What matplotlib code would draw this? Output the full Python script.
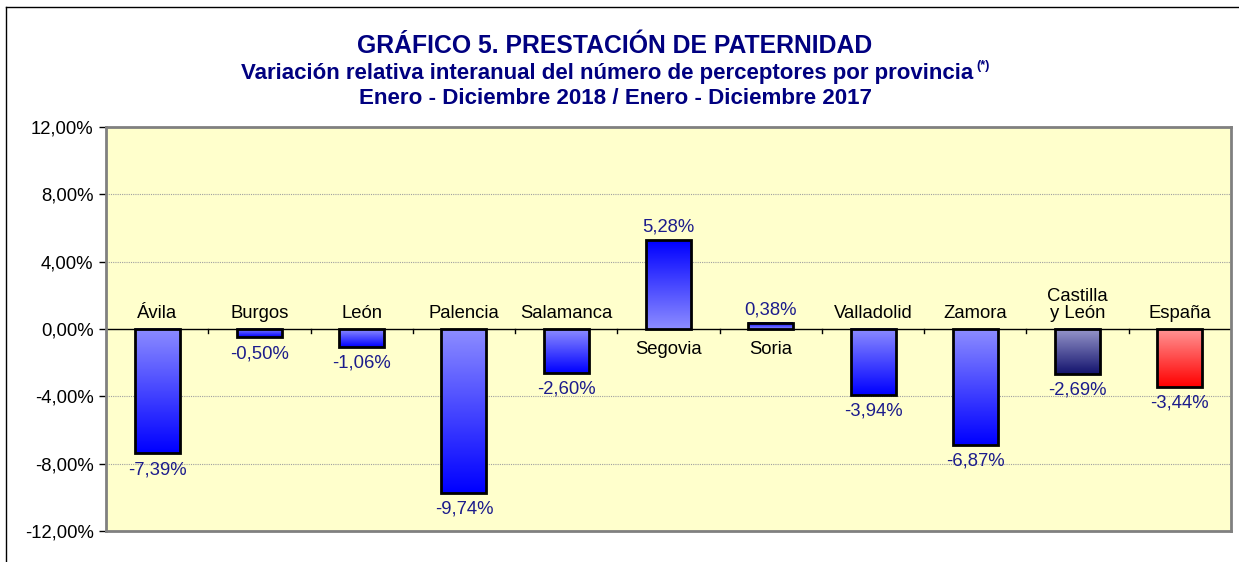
import numpy as np
import matplotlib.pyplot as plt
from matplotlib.patches import Rectangle
from matplotlib.colors import to_rgb
from matplotlib.lines import Line2D

plt.rcParams['font.family'] = ['Liberation Sans', 'DejaVu Sans']

#%% Data
provincias = ["Ávila", "Burgos", "León", "Palencia", "Salamanca", "Segovia",
              "Soria", "Valladolid", "Zamora", "Castilla\ny León", "España"]
variacion = [-7.39, -0.50, -1.06, -9.74, -2.60, 5.28, 0.38, -3.94, -6.87, -2.69, -3.44]
etiquetas = ["-7,39%", "-0,50%", "-1,06%", "-9,74%", "-2,60%", "5,28%",
             "0,38%", "-3,94%", "-6,87%", "-2,69%", "-3,44%"]
yticks = [-12, -8, -4, 0, 4, 8, 12]
ytick_labels = ["-12,00%", "-8,00%", "-4,00%", "0,00%", "4,00%", "8,00%", "12,00%"]

# gradient colours: (near zero, at bar end)
azul = ("#8c8cff", "#0000ff")
colores = [azul] * 9 + [("#9898cc", "#14146e"), ("#ff9494", "#ff0000")]

navy = "#000080"
valor_color = "#1c1c8c"
fs = 13.3

#%% Figure
fig = plt.figure(figsize=(12.39, 5.62), dpi=100)
ax = fig.add_axes([0.0856, 0.0552, 0.9079, 0.7188])
ax.set_facecolor("#ffffcc")

bw = 0.44
for i, (v, (c0, c1)) in enumerate(zip(variacion, colores)):
    n = 64
    t = np.linspace(0, 1, n)[:, None]
    grad = (1 - t) * np.array(to_rgb(c0)) + t * np.array(to_rgb(c1))
    grad = grad[:, None, :]
    if v < 0:
        grad = grad[::-1]
    lo, hi = min(0, v), max(0, v)
    ax.imshow(grad, extent=(i - bw / 2, i + bw / 2, lo, hi), origin="lower",
              aspect="auto", interpolation="bilinear", zorder=3)
    ax.add_patch(Rectangle((i - bw / 2, lo), bw, hi - lo, fill=False,
                           edgecolor="black", linewidth=2, zorder=4))
    if v < 0:
        ax.annotate(provincias[i], (i, 0), xytext=(0, 5), textcoords="offset points",
                    ha="center", va="bottom", fontsize=fs, color="black",
                    linespacing=1.0)
        ax.annotate(etiquetas[i], (i, v), xytext=(0, -5.5), textcoords="offset points",
                    ha="center", va="top", fontsize=fs, color=valor_color)
    else:
        ax.annotate(provincias[i], (i, 0), xytext=(0, -9), textcoords="offset points",
                    ha="center", va="top", fontsize=fs, color="black")
        ax.annotate(etiquetas[i], (i, v), xytext=(0, 3), textcoords="offset points",
                    ha="center", va="bottom", fontsize=fs, color=valor_color)

ax.set_xlim(-0.5, len(variacion) - 0.5)
ax.set_ylim(-12, 12)
ax.set_yticks(yticks)
ax.set_yticklabels(ytick_labels, fontsize=fs)
ax.tick_params(axis="y", direction="out", length=5, width=1, pad=4)
ax.set_xticks([])

for y in [-8, -4, 4, 8]:
    ax.axhline(y, color="#a0a0a0", linewidth=0.8, linestyle=(0, (1, 1)), zorder=1)
ax.axhline(0, color="black", linewidth=1, zorder=2)
# small category separators on the zero line
for k in range(1, len(variacion)):
    ax.plot([k - 0.5, k - 0.5], [0, -0.25], color="black", linewidth=1, zorder=2)

for s in ax.spines.values():
    s.set_color("#808080")
    s.set_linewidth(2)

#%% Titles
fig.text(0.4964, 0.918, "GRÁFICO 5. PRESTACIÓN DE PATERNIDAD", ha="center", va="center",
         fontsize=17.8, fontweight="bold", color=navy)
fig.text(0.4900, 0.869, "Variación relativa interanual del número de perceptores por provincia",
         ha="center", va="center", fontsize=16, fontweight="bold", color=navy)
fig.text(0.7880, 0.882, "(*)", ha="left", va="center", fontsize=9,
         fontweight="bold", color=navy)
fig.text(0.4964, 0.825, "Enero - Diciembre 2018 / Enero - Diciembre 2017", ha="center",
         va="center", fontsize=16.1, fontweight="bold", color=navy)

# outer chart frame (left and top edges visible)
fig.add_artist(Line2D([0.005, 0.005], [0.0, 0.988], transform=fig.transFigure,
                      color="black", linewidth=1))
fig.add_artist(Line2D([0.005, 1.0], [0.988, 0.988], transform=fig.transFigure,
                      color="black", linewidth=1))

fig.savefig("out.png", dpi=100)
